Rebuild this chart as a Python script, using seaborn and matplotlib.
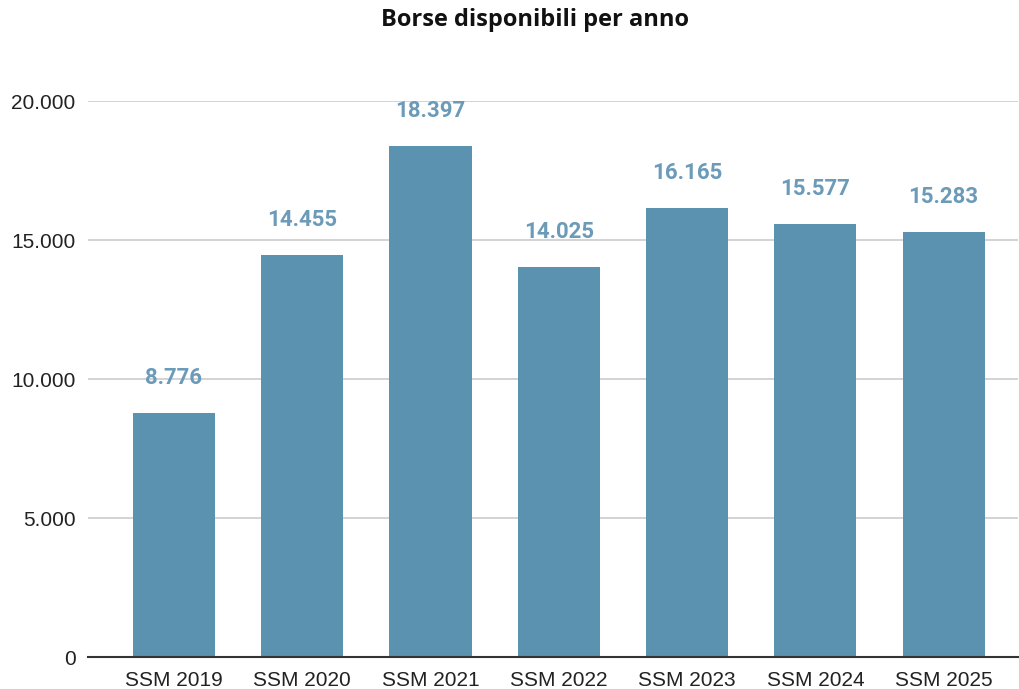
import matplotlib.pyplot as plt
import pandas as pd
import seaborn as sns
from matplotlib.ticker import FuncFormatter

# data
anni = ["SSM 2019", "SSM 2020", "SSM 2021", "SSM 2022", "SSM 2023", "SSM 2024", "SSM 2025"]
borse = [8776, 14455, 18397, 14025, 16165, 15577, 15283]
y_ticks = [0, 5000, 10000, 15000, 20000]

bar_color = "#5a92b0"
label_color = "#6b9bb8"


def fmt_it(v, pos=None):
    # italian thousands separator
    return f"{int(v):,}".replace(",", ".")


df = pd.DataFrame({"anno": anni, "borse": borse})

sns.set_style("white")
plt.rcParams["font.family"] = ["Liberation Sans", "DejaVu Sans"]

fig = plt.figure(figsize=(10.19, 6.89), dpi=100)
ax = fig.add_axes([0.0864, 0.0464, 0.9126, 0.807])

sns.barplot(data=df, x="anno", y="borse", color=bar_color, saturation=1,
            width=0.64, linewidth=0, ax=ax, zorder=3)

ax.set_ylim(0, 20000)
ax.set_xlim(-0.67, 6.58)
ax.set_yticks(y_ticks)
ax.yaxis.set_major_formatter(FuncFormatter(fmt_it))
ax.grid(axis="y", color="#cccccc", linewidth=1.2, zorder=0)
ax.set_axisbelow(True)

for s in ["left", "right", "top"]:
    ax.spines[s].set_visible(False)
ax.spines["bottom"].set_color("#333333")
ax.spines["bottom"].set_linewidth(1.5)
ax.spines["bottom"].set_zorder(4)

ax.tick_params(axis="both", length=0, labelsize=15, colors="#222222")
ax.tick_params(axis="y", pad=9)
ax.tick_params(axis="x", pad=10)
ax.set_xlabel("")
ax.set_ylabel("")

for i, v in enumerate(borse):
    ax.annotate(fmt_it(v), (i, v), xytext=(0, 25), textcoords="offset points",
                ha="center", va="center", fontsize=16, fontweight="bold",
                color=label_color, family=["Roboto", "DejaVu Sans"], zorder=5)

fig.text(535 / 1019, 1 - 20 / 689, "Borse disponibili per anno", ha="center", va="center",
         fontsize=17, fontweight="bold", family=["Open Sans", "DejaVu Sans"], color="#111111")

fig.savefig("out.png", dpi=100)
